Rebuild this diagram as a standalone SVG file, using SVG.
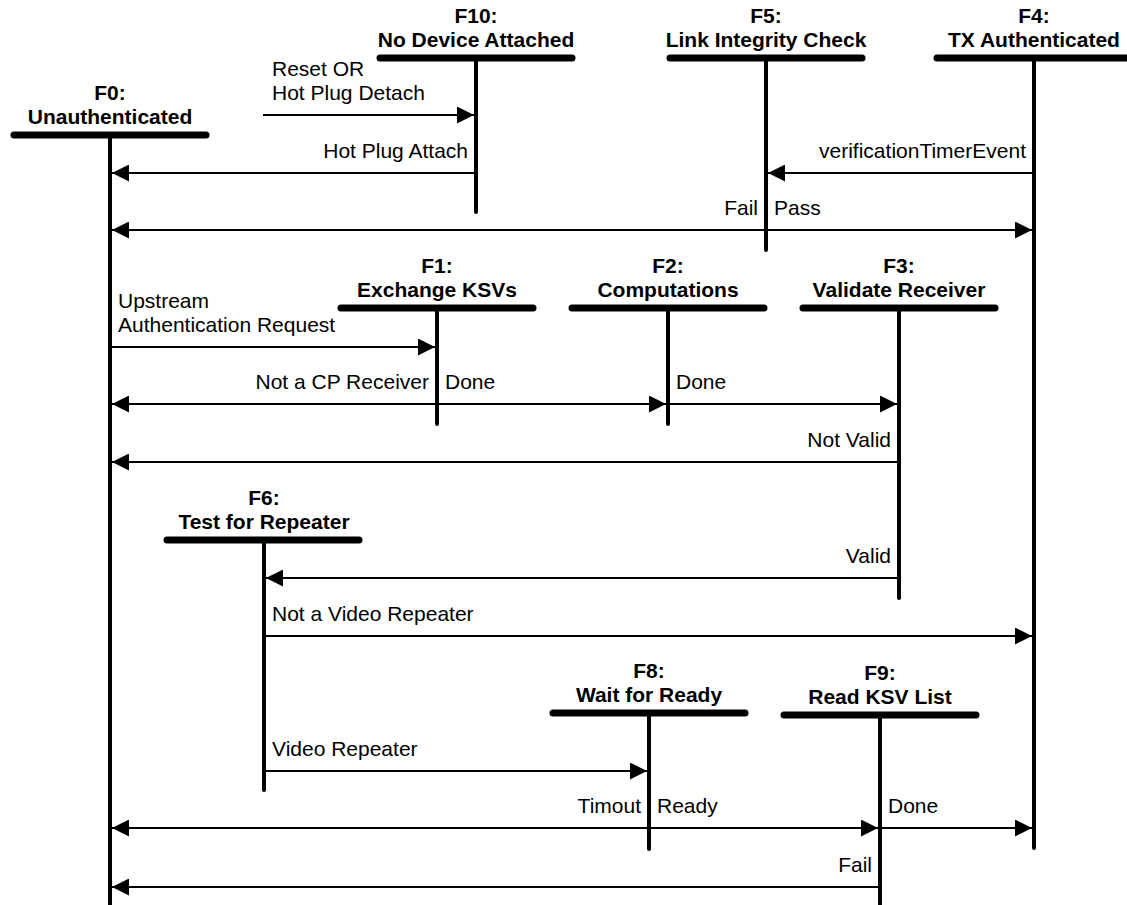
<svg xmlns="http://www.w3.org/2000/svg" width="1127" height="905" viewBox="0 0 1127 905">
<style>
.bg{fill:#fff}
.bar{stroke:#000;stroke-width:7;stroke-linecap:round;fill:none}
.life{stroke:#000;stroke-width:4;stroke-linecap:round;fill:none}
.title{font-family:"Liberation Sans",Arial,sans-serif;font-size:21px;font-weight:bold;fill:#000;text-anchor:middle}
.conn{stroke:#000;stroke-width:2;fill:none}
.lbl{font-family:"Liberation Sans",Arial,sans-serif;font-size:21px;fill:#000}
.r{text-anchor:end}
</style>
<defs>
<marker id="ah" markerUnits="userSpaceOnUse" markerWidth="17" markerHeight="17" viewBox="0 0 17 17" refX="17" refY="8.5" orient="auto-start-reverse">
<path d="M0,0 L17,8.5 L0,17 z" fill="#000"/>
</marker>
</defs>
<rect class="bg" x="0" y="0" width="1127" height="905"/>

<g id="connectors">
<line class="conn" x1="263" y1="115" x2="474" y2="115" marker-end="url(#ah)"/>
<line class="conn" x1="476" y1="173" x2="112" y2="173" marker-end="url(#ah)"/>
<line class="conn" x1="1034" y1="173" x2="768" y2="173" marker-end="url(#ah)"/>
<line class="conn" x1="112" y1="230" x2="1032" y2="230" marker-start="url(#ah)" marker-end="url(#ah)"/>
<line class="conn" x1="110" y1="347" x2="435" y2="347" marker-end="url(#ah)"/>
<line class="conn" x1="112" y1="404" x2="666" y2="404" marker-start="url(#ah)" marker-end="url(#ah)"/>
<line class="conn" x1="668" y1="404" x2="897" y2="404" marker-end="url(#ah)"/>
<line class="conn" x1="899" y1="462" x2="112" y2="462" marker-end="url(#ah)"/>
<line class="conn" x1="899" y1="578" x2="266" y2="578" marker-end="url(#ah)"/>
<line class="conn" x1="264" y1="636" x2="1032" y2="636" marker-end="url(#ah)"/>
<line class="conn" x1="264" y1="771" x2="647" y2="771" marker-end="url(#ah)"/>
<line class="conn" x1="112" y1="828" x2="878" y2="828" marker-start="url(#ah)" marker-end="url(#ah)"/>
<line class="conn" x1="880" y1="828" x2="1032" y2="828" marker-end="url(#ah)"/>
<line class="conn" x1="880" y1="887" x2="112" y2="887" marker-end="url(#ah)"/>
<text class="lbl" x="272" y="76">Reset OR</text>
<text class="lbl" x="272" y="100">Hot Plug Detach</text>
<text class="lbl r" x="468" y="158">Hot Plug Attach</text>
<text class="lbl r" x="1026" y="158">verificationTimerEvent</text>
<text class="lbl r" x="758" y="215">Fail</text>
<text class="lbl" x="774" y="215">Pass</text>
<text class="lbl" x="118" y="308">Upstream</text>
<text class="lbl" x="118" y="332">Authentication Request</text>
<text class="lbl r" x="429" y="389">Not a CP Receiver</text>
<text class="lbl" x="445" y="389">Done</text>
<text class="lbl" x="676" y="389">Done</text>
<text class="lbl r" x="891" y="447">Not Valid</text>
<text class="lbl r" x="891" y="563">Valid</text>
<text class="lbl" x="272" y="621">Not a Video Repeater</text>
<text class="lbl" x="272" y="756">Video Repeater</text>
<text class="lbl r" x="641" y="813">Timout</text>
<text class="lbl" x="657" y="813">Ready</text>
<text class="lbl" x="888" y="813">Done</text>
<text class="lbl r" x="872" y="872">Fail</text>
</g>

<g id="F0">
<text class="title" x="110" y="100">F0:</text>
<text class="title" x="110" y="124">Unauthenticated</text>
<line class="life" x1="110" y1="135" x2="110" y2="910"/>
<line class="bar" x1="14" y1="135" x2="206" y2="135"/>
</g>
<g id="F10">
<text class="title" x="476" y="23">F10:</text>
<text class="title" x="476" y="47">No Device Attached</text>
<line class="life" x1="476" y1="58" x2="476" y2="212"/>
<line class="bar" x1="380" y1="58" x2="572" y2="58"/>
</g>
<g id="F5">
<text class="title" x="766" y="23">F5:</text>
<text class="title" x="766" y="47">Link Integrity Check</text>
<line class="life" x1="766" y1="58" x2="766" y2="250"/>
<line class="bar" x1="670" y1="58" x2="862" y2="58"/>
</g>
<g id="F4">
<text class="title" x="1034" y="23">F4:</text>
<text class="title" x="1034" y="47">TX Authenticated</text>
<line class="life" x1="1034" y1="58" x2="1034" y2="848"/>
<line class="bar" x1="937" y1="58" x2="1131" y2="58"/>
</g>
<g id="F1">
<text class="title" x="437" y="273">F1:</text>
<text class="title" x="437" y="297">Exchange KSVs</text>
<line class="life" x1="437" y1="308" x2="437" y2="424"/>
<line class="bar" x1="341" y1="308" x2="533" y2="308"/>
</g>
<g id="F2">
<text class="title" x="668" y="273">F2:</text>
<text class="title" x="668" y="297">Computations</text>
<line class="life" x1="668" y1="308" x2="668" y2="424"/>
<line class="bar" x1="572" y1="308" x2="764" y2="308"/>
</g>
<g id="F3">
<text class="title" x="899" y="273">F3:</text>
<text class="title" x="899" y="297">Validate Receiver</text>
<line class="life" x1="899" y1="308" x2="899" y2="598"/>
<line class="bar" x1="803" y1="308" x2="995" y2="308"/>
</g>
<g id="F6">
<text class="title" x="264" y="505">F6:</text>
<text class="title" x="264" y="529">Test for Repeater</text>
<line class="life" x1="264" y1="540" x2="264" y2="790"/>
<line class="bar" x1="167" y1="540" x2="359" y2="540"/>
</g>
<g id="F8">
<text class="title" x="649" y="678">F8:</text>
<text class="title" x="649" y="702">Wait for Ready</text>
<line class="life" x1="649" y1="713" x2="649" y2="849"/>
<line class="bar" x1="553" y1="713" x2="745" y2="713"/>
</g>
<g id="F9">
<text class="title" x="880" y="680">F9:</text>
<text class="title" x="880" y="704">Read KSV List</text>
<line class="life" x1="880" y1="715" x2="880" y2="910"/>
<line class="bar" x1="784" y1="715" x2="976" y2="715"/>
</g>
</svg>
